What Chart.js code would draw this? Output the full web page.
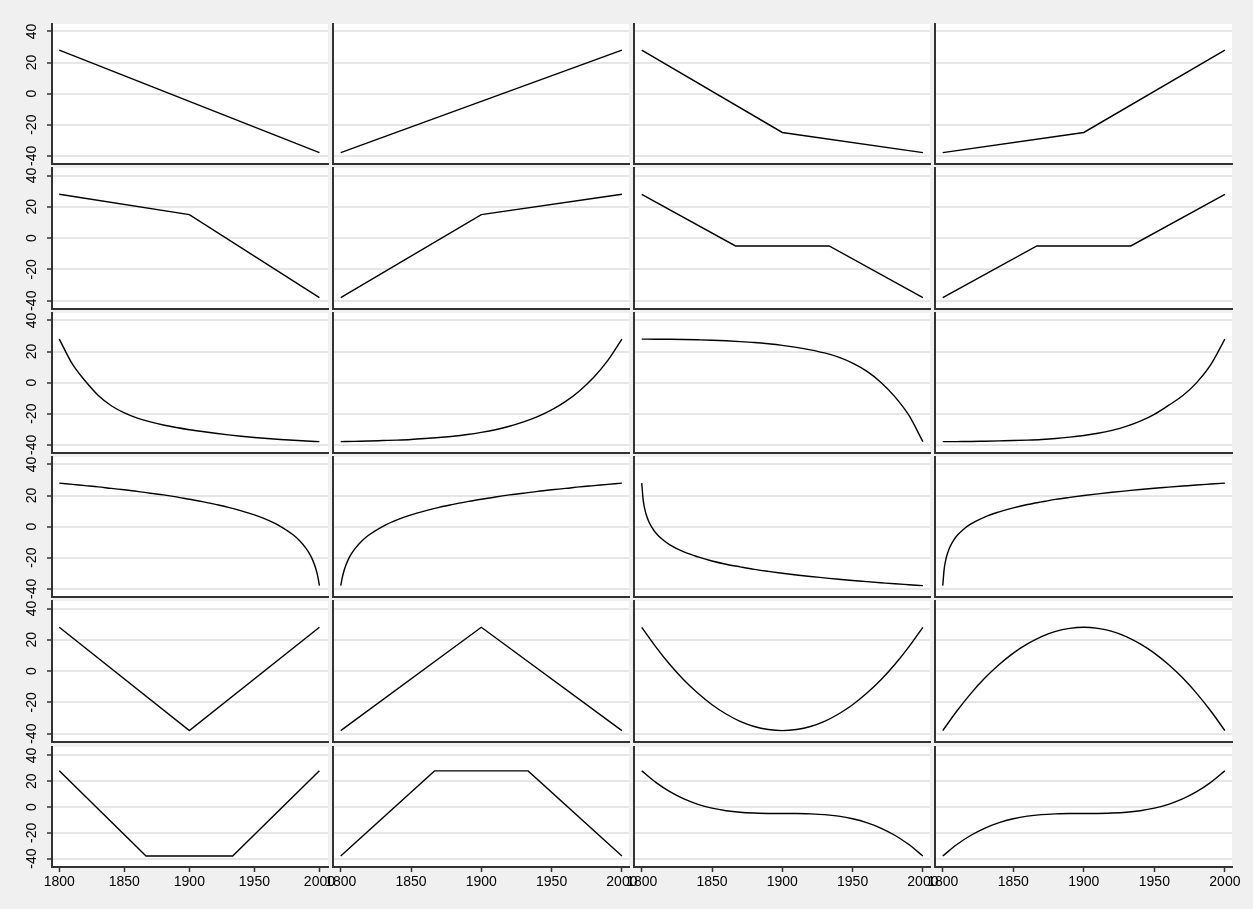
<!DOCTYPE html>
<html>
<head>
<meta charset="utf-8">
<title>Function shapes 1800-2000</title>
<script src="https://cdn.jsdelivr.net/npm/chart.js@4.4.1/dist/chart.umd.min.js"></script>
<style>
  html, body { margin: 0; padding: 0; background: #f0f0f0; }
  #board { position: relative; width: 1253px; height: 909px; overflow: hidden; }
  #board canvas { position: absolute; }
</style>
</head>
<body>
<div id="board"></div>
<script>
// x values (years) used by the series
const decades = [1800, 1810, 1820, 1830, 1840, 1850, 1860, 1870, 1880, 1890, 1900,
                 1910, 1920, 1930, 1940, 1950, 1960, 1970, 1980, 1990, 2000];
const yearsSteepStart = [1800, 1801, 1802, 1803, 1805, 1807, 1810, 1815, 1820, 1830, 1840, 1850, 1860,
                         1870, 1880, 1890, 1900, 1910, 1920, 1930, 1940, 1950, 1960, 1970, 1980, 1990, 2000];
const yearsSteepEnd = [1800, 1810, 1820, 1830, 1840, 1850, 1860, 1870, 1880, 1890, 1900, 1910, 1920, 1930,
                       1940, 1950, 1960, 1970, 1980, 1985, 1990, 1993, 1995, 1997, 1998, 1999, 2000];
const yearsEnds = [1800, 2000];
const yearsMid = [1800, 1900, 2000];
const yearsThirds = [1800, 1866.7, 1933.3, 2000];

// row 1
const straightDown = [28, -38];
const straightUp = [-38, 28];
const kneeDown = [28, -25, -38];
const kneeUp = [-38, -25, 28];
// row 2
const shoulderDown = [28, 15, -38];
const shoulderUp = [-38, 15, 28];
const stepDown = [28, -5, -5, -38];
const stepUp = [-38, -5, -5, 28];
// row 3
const decayEarly = [28, 12, 1, -8.3, -14.9, -19.5, -22.8, -25.3, -27.3, -28.9, -30.3,
                    -31.5, -32.6, -33.6, -34.5, -35.3, -36, -36.6, -37.1, -37.6, -38];
const growLate = [-38, -37.8, -37.6, -37.3, -37, -36.6, -36, -35.3, -34.5, -33.4, -32,
                  -30.3, -28.1, -25.3, -21.9, -17.6, -12.1, -5.2, 3.4, 14.3, 28];
const dropLate = [28, 27.95, 27.9, 27.75, 27.55, 27.3, 26.9, 26.4, 25.8, 25, 24,
                  22.7, 21.1, 19.1, 16.4, 12.6, 7.4, 0.3, -9, -21, -38];
const surgeLate = [-38, -37.95, -37.9, -37.7, -37.5, -37.3, -37, -36.6, -36, -35.1, -34,
                   -32.6, -30.7, -28.2, -24.8, -20.4, -14.7, -8.5, 0, 11.5, 28];
// row 4
const plungeEnd = [28, 27.2, 26.4, 25.6, 24.6, 23.7, 22.7, 21.5, 20.4, 19.1, 17.6, 16.1, 14.3, 12.4,
                   10.1, 7.5, 4.3, 0.2, -5.4, -9.2, -14.3, -18.4, -21.9, -26.5, -29.5, -33.1, -38];
const leapStart = [-38, -33.1, -29.5, -26.5, -21.9, -18.4, -14.3, -9.2, -5.4, 0.2, 4.3, 7.5, 10.1,
                   12.4, 14.3, 16.1, 17.6, 19.1, 20.4, 21.5, 22.7, 23.7, 24.6, 25.6, 26.4, 27.2, 28];
const plungeStart = [28, 17.4, 12, 8.3, 3.3, -0.2, -4.1, -8.5, -11.7, -16.3, -19.5, -22.1, -24.2,
                     -25.9, -27.5, -28.8, -30, -31.1, -32.1, -33, -33.9, -34.7, -35.4, -36.1, -36.8, -37.4, -38];
const leapStartSharp = [-38, -27.4, -22, -18.3, -13.3, -9.8, -5.9, -1.5, 1.7, 6.3, 9.5, 12.1, 14.2,
                        15.9, 17.5, 18.8, 20, 21.1, 22.1, 23, 23.9, 24.7, 25.4, 26.1, 26.8, 27.4, 28];
// row 5
const vee = [28, -38, 28];
const peak = [-38, 28, -38];
const bowl = [28, 15.5, 4.2, -5.7, -14.2, -21.5, -27.4, -32.1, -35.4, -37.3, -38,
              -37.3, -35.4, -32.1, -27.4, -21.5, -14.2, -5.7, 4.2, 15.5, 28];
const dome = [-38, -25.5, -14.2, -4.3, 4.2, 11.5, 17.4, 22.1, 25.4, 27.3, 28,
              27.3, 25.4, 22.1, 17.4, 11.5, 4.2, -4.3, -14.2, -25.5, -38];
// row 6
const trough = [28, -38, -38, 28];
const plateau = [-38, 28, 28, -38];
const cubicDown = [28, 19.1, 11.9, 6.3, 2.1, -0.9, -2.9, -4.1, -4.7, -5, -5,
                   -5, -5.3, -5.9, -7.1, -9.1, -12.1, -16.3, -21.9, -29.1, -38];
const cubicUp = [-38, -29.1, -21.9, -16.3, -12.1, -9.1, -7.1, -5.9, -5.3, -5, -5,
                 -5, -4.7, -4.1, -2.9, -0.9, 2.1, 6.3, 11.9, 19.1, 28];

const xTicks = [1800, 1850, 1900, 1950, 2000];
const yTicks = [-40, -20, 0, 20, 40];

// panels in reading order, 4 per row
const panels = [
  [yearsEnds, straightDown, false], [yearsEnds, straightUp, false], [yearsMid, kneeDown, false], [yearsMid, kneeUp, false],
  [yearsMid, shoulderDown, false], [yearsMid, shoulderUp, false], [yearsThirds, stepDown, false], [yearsThirds, stepUp, false],
  [decades, decayEarly, true], [decades, growLate, true], [decades, dropLate, true], [decades, surgeLate, true],
  [yearsSteepEnd, plungeEnd, true], [yearsSteepStart, leapStart, true], [yearsSteepStart, plungeStart, true], [yearsSteepStart, leapStartSharp, true],
  [yearsMid, vee, false], [yearsMid, peak, false], [decades, bowl, true], [decades, dome, true],
  [yearsThirds, trough, false], [yearsThirds, plateau, false], [decades, cubicDown, true], [decades, cubicUp, true]
];

// plot areas of the grid, in page pixels
const colLeft = [52, 333, 634, 935];
const colRight = [328, 629, 930, 1232];
const rowTop = [24, 168, 313, 457, 601, 747];
const rowBottom = [164, 309, 453, 597, 742, 867];
const PAD = 24;

Chart.defaults.font.family = "'Liberation Sans Narrow', 'Arial Narrow', 'Liberation Sans', Arial, sans-serif";
Chart.defaults.font.size = 14;
Chart.defaults.color = '#000';

const plotBg = {
  id: 'plotBg',
  beforeDraw(chart) {
    const a = chart.chartArea;
    const ctx = chart.ctx;
    ctx.save();
    ctx.fillStyle = '#ffffff';
    ctx.fillRect(a.left, a.top, a.right - a.left, a.bottom - a.top);
    ctx.restore();
  }
};

const board = document.getElementById('board');

panels.forEach(function (p, i) {
  const r = Math.floor(i / 4), c = i % 4;
  const firstCol = c === 0, lastRow = r === 5;
  const yw = firstCol ? 34 : 0;
  const xh = lastRow ? 30 : 0;
  const w = colRight[c] - colLeft[c] + 2 * PAD + yw;
  const h = rowBottom[r] - rowTop[r] + 2 * PAD + xh;

  const cv = document.createElement('canvas');
  cv.width = w;
  cv.height = h;
  cv.style.left = (colLeft[c] - PAD - yw) + 'px';
  cv.style.top = (rowTop[r] - PAD) + 'px';
  cv.style.width = w + 'px';
  cv.style.height = h + 'px';
  board.appendChild(cv);

  new Chart(cv, {
    type: 'line',
    data: {
      datasets: [{
        data: p[0].map((x, k) => ({ x: x, y: p[1][k] })),
        borderColor: '#000',
        borderWidth: 1.4,
        pointRadius: 0,
        fill: false,
        tension: 0,
        cubicInterpolationMode: p[2] ? 'monotone' : 'default'
      }]
    },
    options: {
      responsive: false,
      animation: false,
      events: [],
      layout: { padding: PAD },
      plugins: {
        legend: { display: false },
        tooltip: { enabled: false }
      },
      scales: {
        x: {
          type: 'linear',
          bounds: 'data',
          min: firstCol ? 1794.4 : 1794.5,
          max: firstCol ? 2006.6 : 2005.05,
          afterBuildTicks: s => { s.ticks = xTicks.map(v => ({ value: v })); },
          afterFit: s => { s.height = xh; },
          grid: { display: true, drawOnChartArea: false, drawTicks: lastRow, tickLength: 5, tickColor: '#333', tickWidth: 1.5 },
          border: { display: true, color: '#333', width: 2 },
          ticks: { display: lastRow, padding: 2, autoSkip: false, minRotation: 0, maxRotation: 0, callback: v => String(v) }
        },
        y: {
          type: 'linear',
          bounds: 'data',
          min: lastRow ? -46.5 : -45.3,
          max: lastRow ? 46.5 : 44.8,
          afterBuildTicks: s => { s.ticks = yTicks.map(v => ({ value: v })); },
          afterFit: s => { s.width = yw; },
          grid: { display: true, drawOnChartArea: true, color: '#e6e6e6', lineWidth: 2, drawTicks: firstCol, tickLength: 5, tickColor: '#333', tickWidth: 1.5 },
          border: { display: true, color: '#333', width: 2 },
          ticks: { display: firstCol, padding: 5, autoSkip: false, minRotation: 90, maxRotation: 90, crossAlign: 'center', callback: v => String(v) }
        }
      }
    },
    plugins: [plotBg]
  });
});
</script>
</body>
</html>
